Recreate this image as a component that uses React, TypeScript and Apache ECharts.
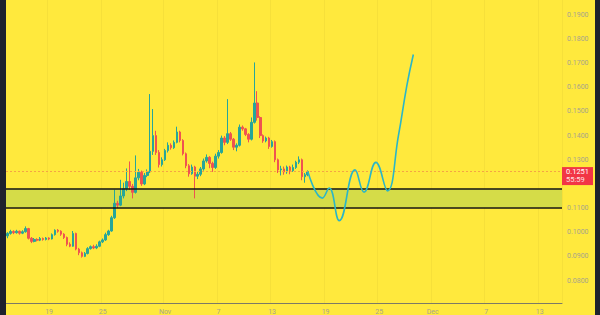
import React, { useEffect, useRef } from "react";
import * as echarts from "echarts";

// 8-hour slots along the time axis (slot 0 = Oct 14 08:00)
const slotCount = 187;
const tickSlots = [14, 32, 53, 71, 89, 107, 125, 143, 161, 179];
const tickLabels = ["19", "25", "Nov", "7", "13", "19", "25", "Dec", "7", "13"];

// 0.1200 sits behind the last-price tag in the reference
const priceTicks = [0.08, 0.09, 0.1, 0.11, 0.13, 0.14, 0.15, 0.16, 0.17, 0.18, 0.19];
const priceMax = 0.19615;
const priceMin = 0.07069;

const opens = [
  0.0985, 0.0995, 0.1003, 0.0998, 0.1004, 0.0996, 0.1002, 0.1015, 0.0975, 0.0962,
  0.0970, 0.0967, 0.0974, 0.0970, 0.0976, 0.0972, 0.0990, 0.1008, 0.1004, 0.0992,
  0.0978, 0.0950, 0.0942, 0.0995, 0.0930, 0.0915, 0.0900, 0.0912, 0.0932, 0.0940,
  0.0935, 0.0942, 0.0960, 0.0968, 0.0990, 0.1005, 0.1060, 0.1120, 0.1112, 0.1150,
  0.1180, 0.1210, 0.1190, 0.1165, 0.1225, 0.1248, 0.1200, 0.1235, 0.1250, 0.1335,
  0.1400, 0.1330, 0.1280, 0.1300, 0.1338, 0.1360, 0.1350, 0.1372, 0.1415, 0.1380,
  0.1325, 0.1275, 0.1242, 0.1270, 0.1232, 0.1240, 0.1262, 0.1295, 0.1310, 0.1285,
  0.1268, 0.1315, 0.1330, 0.1390, 0.1372, 0.1408, 0.1385, 0.1352, 0.1360, 0.1435,
  0.1428, 0.1405, 0.1385, 0.1455, 0.1535, 0.1475, 0.1400, 0.1378, 0.1390, 0.1355,
  0.1375, 0.1300, 0.1258, 0.1262, 0.1250, 0.1270, 0.1255, 0.1268, 0.1290, 0.1300,
  0.1230, 0.1238,
];
const closes = [
  0.0995, 0.1003, 0.0998, 0.1004, 0.0996, 0.1002, 0.1015, 0.0975, 0.0962, 0.0970,
  0.0967, 0.0974, 0.0970, 0.0976, 0.0972, 0.0990, 0.1008, 0.1004, 0.0992, 0.0978,
  0.0950, 0.0942, 0.0995, 0.0930, 0.0915, 0.0900, 0.0912, 0.0932, 0.0940, 0.0935,
  0.0942, 0.0960, 0.0968, 0.0990, 0.1005, 0.1060, 0.1120, 0.1112, 0.1150, 0.1180,
  0.1210, 0.1190, 0.1165, 0.1225, 0.1248, 0.1200, 0.1235, 0.1250, 0.1335, 0.1400,
  0.1330, 0.1280, 0.1300, 0.1338, 0.1360, 0.1350, 0.1372, 0.1415, 0.1380, 0.1325,
  0.1275, 0.1242, 0.1270, 0.1232, 0.1240, 0.1262, 0.1295, 0.1310, 0.1285, 0.1268,
  0.1315, 0.1330, 0.1390, 0.1372, 0.1408, 0.1385, 0.1352, 0.1360, 0.1435, 0.1428,
  0.1405, 0.1385, 0.1455, 0.1535, 0.1475, 0.1400, 0.1378, 0.1390, 0.1355, 0.1375,
  0.1300, 0.1258, 0.1262, 0.1250, 0.1270, 0.1255, 0.1268, 0.1290, 0.1300, 0.1230,
  0.1238, 0.1251,
];
const lows = [
  0.0975, 0.0990, 0.0992, 0.0994, 0.0990, 0.0992, 0.0998, 0.0970, 0.0955, 0.0958,
  0.0962, 0.0963, 0.0965, 0.0966, 0.0967, 0.0970, 0.0986, 0.0998, 0.0985, 0.0972,
  0.0942, 0.0938, 0.0940, 0.0925, 0.0905, 0.0895, 0.0897, 0.0908, 0.0928, 0.0930,
  0.0930, 0.0938, 0.0955, 0.0964, 0.0985, 0.1002, 0.1055, 0.1100, 0.1108, 0.1140,
  0.1170, 0.1175, 0.1140, 0.1160, 0.1215, 0.1192, 0.1195, 0.1228, 0.1245, 0.1320,
  0.1320, 0.1268, 0.1272, 0.1295, 0.1330, 0.1342, 0.1345, 0.1368, 0.1372, 0.1318,
  0.1265, 0.1230, 0.1238, 0.1140, 0.1220, 0.1232, 0.1255, 0.1288, 0.1265, 0.1250,
  0.1262, 0.1305, 0.1325, 0.1360, 0.1365, 0.1378, 0.1340, 0.1335, 0.1355, 0.1420,
  0.1398, 0.1372, 0.1380, 0.1450, 0.1462, 0.1390, 0.1370, 0.1372, 0.1345, 0.1350,
  0.1290, 0.1245, 0.1235, 0.1238, 0.1242, 0.1240, 0.1250, 0.1262, 0.1282, 0.1215,
  0.1205, 0.1232,
];
const highs = [
  0.1000, 0.1010, 0.1008, 0.1010, 0.1007, 0.1008, 0.1024, 0.1018, 0.0980, 0.0976,
  0.0975, 0.0980, 0.0978, 0.0980, 0.0979, 0.0995, 0.1012, 0.1013, 0.1008, 0.0996,
  0.0982, 0.0958, 0.1005, 0.0998, 0.0935, 0.0920, 0.0918, 0.0938, 0.0945, 0.0948,
  0.0950, 0.0965, 0.0974, 0.0998, 0.1010, 0.1068, 0.1176, 0.1130, 0.1217, 0.1205,
  0.1264, 0.1293, 0.1200, 0.1318, 0.1262, 0.1255, 0.1245, 0.1260, 0.1572, 0.1510,
  0.1420, 0.1340, 0.1310, 0.1345, 0.1372, 0.1368, 0.1380, 0.1437, 0.1420, 0.1385,
  0.1330, 0.1282, 0.1280, 0.1275, 0.1250, 0.1270, 0.1305, 0.1322, 0.1315, 0.1292,
  0.1325, 0.1340, 0.1400, 0.1398, 0.1551, 0.1415, 0.1390, 0.1368, 0.1446, 0.1442,
  0.1432, 0.1410, 0.1475, 0.1703, 0.1584, 0.1480, 0.1405, 0.1396, 0.1395, 0.1382,
  0.1380, 0.1305, 0.1275, 0.1272, 0.1276, 0.1275, 0.1280, 0.1296, 0.1314, 0.1305,
  0.1245, 0.1256,
];

// projected path (slot position, price)
const projSlots = [101, 105.9, 108.2, 111.6, 116.9, 119.9, 123.9, 127.8, 131.5, 134.3, 136.5];
const projPrices = [0.1251, 0.1141, 0.1183, 0.1048, 0.1258, 0.1166, 0.1289, 0.1171, 0.1401, 0.1606, 0.1736];

const zoneTop = 0.118;
const zoneBottom = 0.1102;
const lastPrice = 0.1251;
const lastPriceText = "0.1251";
const countdownText = "55:59";

const FONT = "Roboto, 'Noto Sans', sans-serif";

export default function App() {
  const ref = useRef<HTMLDivElement>(null);

  useEffect(() => {
    if (!ref.current) return;
    const chart = echarts.init(ref.current, undefined, { renderer: "svg" });
    const categories = Array.from({ length: slotCount }, (_, i) => String(i));
    const candles = opens.map((o, i) => [o, closes[i], lows[i], highs[i]]);
    const proj = projSlots.map((s, i) => [s, projPrices[i]]);
    const tickSet = new Set(tickSlots);
    const showTick = (idx: number) => tickSet.has(idx);

    chart.setOption({
      animation: false,
      backgroundColor: "#FFE93D",
      grid: { left: 0, right: 33, top: 0, bottom: 9, containLabel: false },
      xAxis: [
        {
          type: "category",
          data: categories,
          boundaryGap: true,
          axisLine: { show: true, lineStyle: { color: "#7c7a66", width: 1 } },
          axisTick: { show: false },
          axisLabel: {
            interval: showTick,
            formatter: (_v: string, idx: number) => {
              const k = tickSlots.indexOf(idx);
              return k >= 0 ? tickLabels[k] : "";
            },
            color: "#a8a48c",
            fontSize: 7,
            fontFamily: FONT,
            margin: 5,
          },
          splitLine: { show: true, interval: showTick, lineStyle: { color: "rgba(0,0,0,0.035)", width: 1 } },
        },
        {
          type: "value",
          min: -0.5,
          max: slotCount - 0.5,
          show: false,
        },
      ],
      yAxis: {
        type: "value",
        position: "right",
        min: priceMin,
        max: priceMax,
        axisLine: { show: false },
        axisTick: { show: false },
        splitLine: { show: false },
        axisLabel: {
          customValues: priceTicks,
          formatter: (v: number) => v.toFixed(4),
          color: "#a8a48c",
          fontSize: 7,
          fontFamily: FONT,
          margin: 5,
          align: "left",
        },
      },
      series: [
        {
          type: "candlestick",
          xAxisIndex: 0,
          yAxisIndex: 0,
          data: candles,
          barWidth: "70%",
          itemStyle: {
            color: "#26A69A",
            color0: "#EF5350",
            borderColor: "#26A69A",
            borderColor0: "#EF5350",
            borderWidth: 1,
          },
          z: 3,
        },
        {
          type: "line",
          xAxisIndex: 1,
          yAxisIndex: 0,
          data: proj,
          smooth: 0.45,
          showSymbol: false,
          lineStyle: { color: "#2AB6C8", width: 1.6 },
          z: 5,
          markArea: {
            silent: true,
            precision: 4,
            itemStyle: { color: "#D5DC48" },
            data: [[{ yAxis: zoneTop }, { yAxis: zoneBottom }]],
            z: 1,
          },
          markLine: {
            silent: true,
            precision: 4,
            symbol: "none",
            label: { show: false },
            data: [
              { yAxis: zoneTop, lineStyle: { color: "#151515", width: 1.5, type: "solid" } },
              { yAxis: zoneBottom, lineStyle: { color: "#151515", width: 1.5, type: "solid" } },
              { yAxis: lastPrice, lineStyle: { color: "#F5A444", width: 1, type: [2, 2] } },
            ],
          },
        },
      ],
    });

    const py = chart.convertToPixel({ yAxisIndex: 0 }, lastPrice) as number;
    const px = chart.convertToPixel({ xAxisIndex: 1 }, slotCount - 0.5) as number;
    chart.setOption({
      graphic: [
        {
          type: "rect",
          shape: { x: px, y: py - 4.5, width: 31, height: 18 },
          style: { fill: "#F23645" },
          z: 100,
        },
        {
          type: "text",
          x: px + 4,
          y: py,
          style: { text: lastPriceText, fill: "#ffffff", fontSize: 7.5, fontFamily: FONT, verticalAlign: "middle" },
          z: 101,
        },
        {
          type: "text",
          x: px + 4,
          y: py + 8,
          style: { text: countdownText, fill: "#ffe0e3", fontSize: 7.5, fontFamily: FONT, verticalAlign: "middle" },
          z: 101,
        },
      ],
    });

    return () => chart.dispose();
  }, []);

  return (
    <div style={{ position: "fixed", left: 0, top: 0, width: 600, height: 315, background: "#1E222D" }}>
      <div ref={ref} style={{ position: "absolute", left: 6, top: 0, width: 589, height: 315 }} />
    </div>
  );
}
